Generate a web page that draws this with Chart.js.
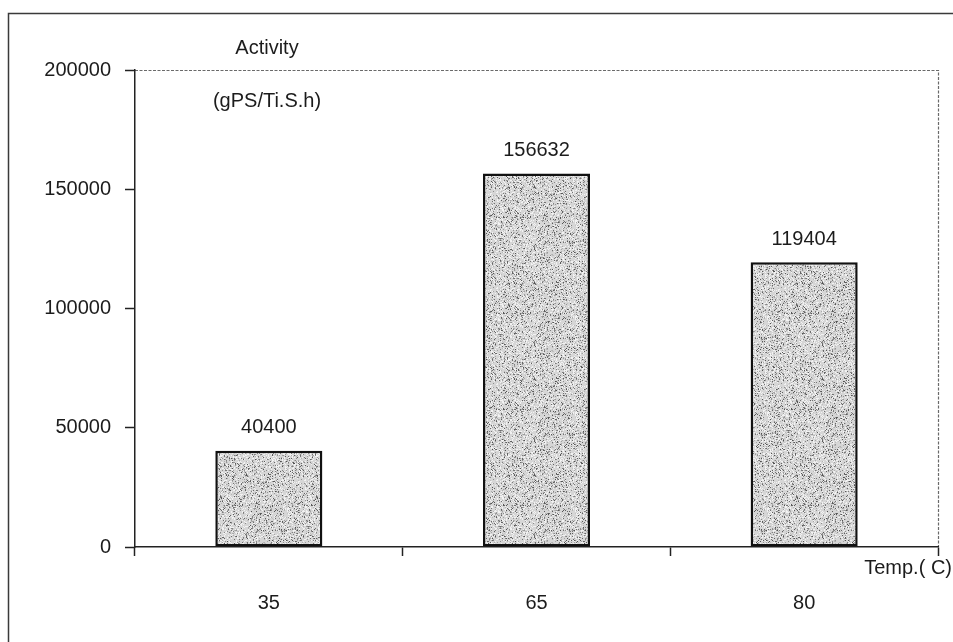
<!DOCTYPE html>
<html>
<head>
<meta charset="utf-8">
<script src="https://cdn.jsdelivr.net/npm/chart.js@4.4.1/dist/chart.umd.min.js"></script>
<style>
  html, body { margin: 0; padding: 0; background: #ffffff; }
  #wrap { width: 953px; height: 642px; position: relative; }
</style>
</head>
<body>
<div id="wrap"><canvas id="c" width="953" height="642"></canvas></div>
<script>
// ---- data ----
const categories = ["35", "65", "80"];
const activityValues = [40400, 156632, 119404];
const yTickValues = [0, 50000, 100000, 150000, 200000];
const yAxisTitleLines = ["Activity", "(gPS/Ti.S.h)"];
const xAxisTitle = "Temp.( C)";

const FONT = "'Liberation Sans', Arial, sans-serif";
const INK = "#1c1c1c";

// stippled grey fill for bars (deterministic speckle texture)
function makeStipple() {
  const s = 96;
  const cv = document.createElement("canvas");
  cv.width = s; cv.height = s;
  const g = cv.getContext("2d");
  g.fillStyle = "#d6d6d6";
  g.fillRect(0, 0, s, s);
  let seed = 12345;
  function rnd() { seed = (seed * 1103515245 + 12345) & 0x7fffffff; return seed / 0x7fffffff; }
  for (let i = 0; i < 2600; i++) {
    const x = Math.floor(rnd() * s), y = Math.floor(rnd() * s);
    const v = Math.floor(80 + rnd() * 120);
    g.fillStyle = "rgb(" + v + "," + v + "," + v + ")";
    g.fillRect(x, y, 1, 1);
  }
  for (let i = 0; i < 1800; i++) {
    const x = Math.floor(rnd() * s), y = Math.floor(rnd() * s);
    g.fillStyle = "#f2f2f2";
    g.fillRect(x, y, 1, 1);
  }
  return g.createPattern(cv, "repeat");
}

const decorPlugin = {
  id: "decor",
  beforeDraw(chart) {
    const ctx = chart.ctx;
    const a = chart.chartArea;
    ctx.save();
    // outer frame (top and left edges of the scanned figure box)
    ctx.strokeStyle = "#3a3a3a";
    ctx.lineWidth = 1.5;
    ctx.beginPath();
    ctx.moveTo(8.5, 642);
    ctx.lineTo(8.5, 13.5);
    ctx.lineTo(953, 13.5);
    ctx.stroke();
    // dotted top and right plot border
    ctx.strokeStyle = "#6a6a6a";
    ctx.lineWidth = 1.2;
    ctx.setLineDash([3, 1.5]);
    ctx.beginPath();
    ctx.moveTo(a.left, a.top + 0.5);
    ctx.lineTo(a.right + 0.5, a.top + 0.5);
    ctx.lineTo(a.right + 0.5, a.bottom);
    ctx.stroke();
    ctx.restore();
  },
  afterDatasetsDraw(chart) {
    const ctx = chart.ctx;
    const a = chart.chartArea;
    const meta = chart.getDatasetMeta(0);
    ctx.save();
    ctx.fillStyle = INK;
    ctx.font = "20px " + FONT;
    ctx.textAlign = "center";
    ctx.textBaseline = "middle";
    meta.data.forEach((bar, i) => {
      ctx.fillText(String(activityValues[i]), bar.x, bar.y - 23);
    });
    // axis titles
    ctx.fillText(yAxisTitleLines[0], a.left + 132, a.top - 22);
    ctx.fillText(yAxisTitleLines[1], a.left + 132, a.top + 31);
    ctx.textAlign = "right";
    ctx.fillText(xAxisTitle, chart.width - 1, a.bottom + 21);
    ctx.restore();
  }
};

const ctx = document.getElementById("c").getContext("2d");
new Chart(ctx, {
  type: "bar",
  data: {
    labels: categories,
    datasets: [{
      data: activityValues,
      backgroundColor: makeStipple(),
      borderColor: "#111111",
      borderWidth: 2.5,
      borderSkipped: false,
      categoryPercentage: 0.8,
      barPercentage: 0.5
    }]
  },
  options: {
    responsive: false,
    animation: false,
    devicePixelRatio: 1,
    layout: { padding: { top: 70, right: 15, left: 0, bottom: 0 } },
    plugins: {
      legend: { display: false },
      title: { display: false },
      tooltip: { enabled: false }
    },
    scales: {
      x: {
        type: "category",
        offset: true,
        afterFit(scale) { scale.height = 95; },
        grid: {
          offset: true,
          drawOnChartArea: false,
          drawTicks: true,
          tickLength: 9,
          tickColor: "#222222",
          tickWidth: 1.5
        },
        border: { display: true, color: "#222222", width: 1.5 },
        ticks: {
          color: INK,
          font: { family: FONT, size: 20 },
          padding: 35,
          maxRotation: 0
        }
      },
      y: {
        min: 0,
        max: 200000,
        afterFit(scale) { scale.width = 135; },
        afterBuildTicks(scale) { scale.ticks = yTickValues.map(v => ({ value: v })); },
        grid: {
          drawOnChartArea: false,
          drawTicks: true,
          tickLength: 10,
          tickColor: "#222222",
          tickWidth: 1.5
        },
        border: { display: true, color: "#222222", width: 1.5 },
        ticks: {
          color: INK,
          font: { family: FONT, size: 20 },
          padding: 14,
          callback: (v) => String(v)
        }
      }
    }
  },
  plugins: [decorPlugin]
});
</script>
</body>
</html>
